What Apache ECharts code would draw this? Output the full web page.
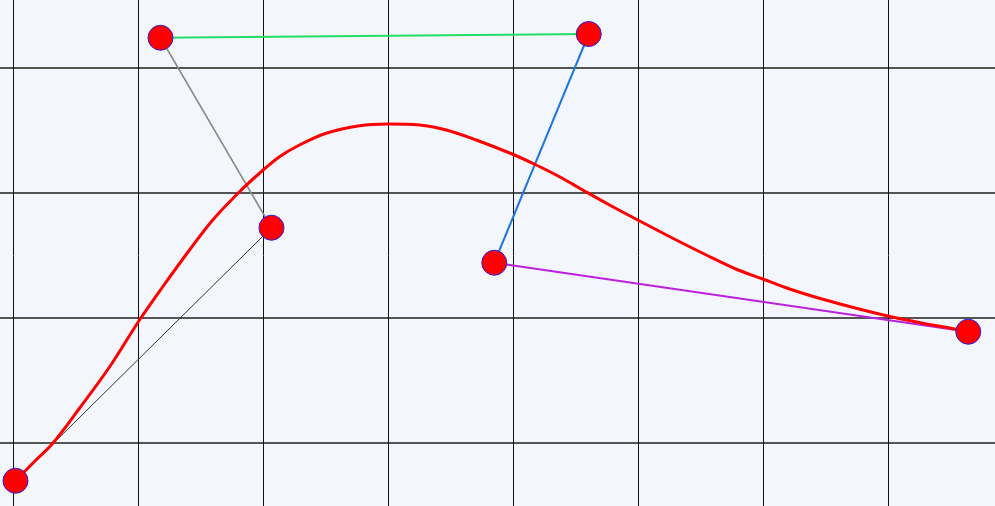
<!DOCTYPE html>
<html lang="en">
<head>
    <meta charset="UTF-8">
    <script src="https://cdn.jsdelivr.net/npm/echarts@6/dist/echarts.min.js"></script>
    <title>Bezier curve</title>
</head>
<body>
    <style>
        html, body {
            margin: 0;
            width: 995px;
            height: 506px;
            background: #f3f7fd;
            overflow: hidden;
            position: relative;
        }
        /* the chart is one cell larger than the window so the grid runs off every edge */
        #main {
            position: absolute;
            left: -112px;
            top: -57px;
            width: 1125px;
            height: 625px;
        }
    </style>
    <div id="main"></div>
    <script>
        // control points, in grid cells (one cell = one unit)
        var controlX = [0.020, 2.068, 1.180, 4.606, 3.850, 7.642];
        var controlY = [0.698, 2.722, 4.242, 4.272, 2.442, 1.890];
        var segmentColors = ['#333333', '#888888', '#22dd66', '#2277dd', '#bb22dd'];
        var segmentWidths = [1, 1.5, 2, 2, 2];

        // points
        var curveX = [0.020, 0.172, 0.318, 0.532, 0.772, 1.012, 1.198, 1.412, 1.598, 1.812,
            1.972, 2.132, 2.292, 2.506, 2.772, 2.998, 3.252, 3.466, 3.706, 3.998,
            4.186, 4.372, 4.558, 4.772, 4.998, 5.278, 5.546, 5.786, 5.998, 6.212,
            6.478, 6.746, 6.998, 7.278, 7.546, 7.642];
        var curveY = [0.698, 0.852, 0.998, 1.278, 1.608, 1.984, 2.250, 2.544, 2.784, 3.010,
            3.158, 3.290, 3.384, 3.478, 3.538, 3.552, 3.544, 3.504, 3.424, 3.310,
            3.224, 3.130, 3.024, 2.904, 2.784, 2.638, 2.504, 2.390, 2.312, 2.232,
            2.150, 2.078, 2.016, 1.958, 1.910, 1.890];

        var chart = echarts.init(document.getElementById('main'));

        var series = [];
        for (var i = 0; i < controlX.length - 1; i++) {
            series.push({
                type: 'line',
                symbol: 'none',
                lineStyle: { color: segmentColors[i], width: segmentWidths[i] },
                data: [[controlX[i], controlY[i]], [controlX[i + 1], controlY[i + 1]]],
                z: 2
            });
        }
        series.push({
            type: 'line',
            symbol: 'none',
            smooth: 0.35,
            lineStyle: { color: '#ff0000', width: 3 },
            data: curveX.map(function (x, i) { return [x, curveY[i]]; }),
            z: 3
        });
        series.push({
            type: 'scatter',
            symbolSize: 25,
            itemStyle: { color: '#ff0000', borderColor: '#2222ee', borderWidth: 1, opacity: 1 },
            data: controlX.map(function (x, i) { return [x, controlY[i]]; }),
            z: 4
        });

        chart.setOption({
            animation: false,
            backgroundColor: '#f3f7fd',
            grid: { left: 0, right: 0, top: 0, bottom: 0 },
            xAxis: {
                type: 'value',
                min: -1, max: 8, interval: 1,
                axisLine: { show: false },
                axisTick: { show: false },
                axisLabel: { show: false },
                splitLine: { show: true, lineStyle: { color: '#111111', width: 1 } }
            },
            yAxis: {
                type: 'value',
                min: 0, max: 5, interval: 1,
                axisLine: { show: false },
                axisTick: { show: false },
                axisLabel: { show: false },
                splitLine: { show: true, lineStyle: { color: '#555555', width: 2 } }
            },
            series: series
        });
    </script>
</body>
</html>
